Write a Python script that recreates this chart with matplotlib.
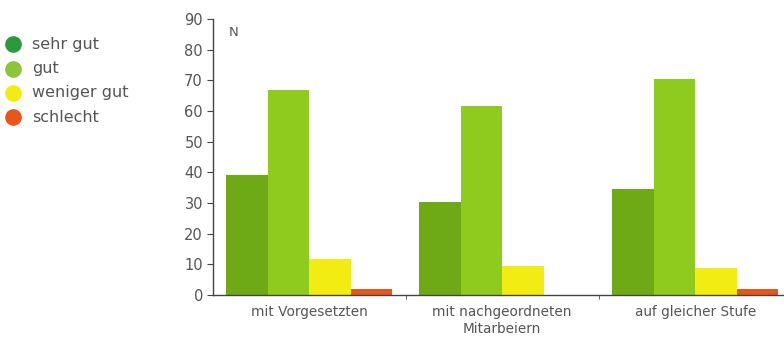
import matplotlib.pyplot as plt
import numpy as np
from matplotlib.lines import Line2D

groups = ['mit Vorgesetzten', 'mit nachgeordneten\nMitarbeiern', 'auf gleicher Stufe']
ratings = ['sehr gut', 'gut', 'weniger gut', 'schlecht']
sehr_gut = [39, 30.5, 34.5]
gut = [67, 61.5, 70.5]
weniger_gut = [11.7, 9.5, 8.8]
schlecht = [2, 0, 2]

bar_colors = ['#6ea916', '#8fcb1f', '#f3ec12', '#e9561b']
dot_colors = ['#2b9a3c', '#8cc43a', '#f3ec12', '#e9561b']
grey = '#555555'


def main():
    W, H = 784, 338
    fig = plt.figure(figsize=(W / 100, H / 100), dpi=100)
    ax = fig.add_axes([0.2713, 0.127, 0.7385, 0.8166])

    x = np.arange(len(groups))
    w = 0.215
    series = [sehr_gut, gut, weniger_gut, schlecht]
    for i, vals in enumerate(series):
        ax.bar(x + (i - 1.5) * w, vals, w, color=bar_colors[i], linewidth=0)

    ax.set_xlim(-0.5, 2.5)
    ax.set_ylim(0, 90)
    ax.set_yticks(range(0, 91, 10))
    ax.set_xticks(x)
    ax.set_xticklabels(groups, color=grey, fontsize=9.8, linespacing=1.3)
    ax.set_xticks([0.5, 1.5], minor=True)
    ax.tick_params(axis='x', which='major', length=0, pad=7)
    ax.tick_params(axis='x', which='minor', length=3, color='#444444')
    ax.tick_params(axis='y', length=4, color='#444444', labelcolor=grey,
                   labelsize=10.5, pad=3)

    for s in ['top', 'right']:
        ax.spines[s].set_visible(False)
    for s in ['left', 'bottom']:
        ax.spines[s].set_color('#444444')
        ax.spines[s].set_linewidth(1)

    ax.text(0.027, 0.95, 'N', transform=ax.transAxes, color=grey,
            fontsize=9.5, va='center', ha='left')

    # legend: round dots with labels, top left
    for i, (lab, c) in enumerate(zip(ratings, dot_colors)):
        yy = 1 - (44 + 24.5 * i) / H
        fig.add_artist(Line2D([13 / W], [yy], marker='o', markersize=12,
                              markerfacecolor=c, markeredgewidth=0,
                              linestyle='', transform=fig.transFigure))
        fig.text(32 / W, yy, lab, color=grey, fontsize=11.5, va='center',
                 ha='left')

    fig.savefig('out.png', dpi=100)


if __name__ == '__main__':
    main()
